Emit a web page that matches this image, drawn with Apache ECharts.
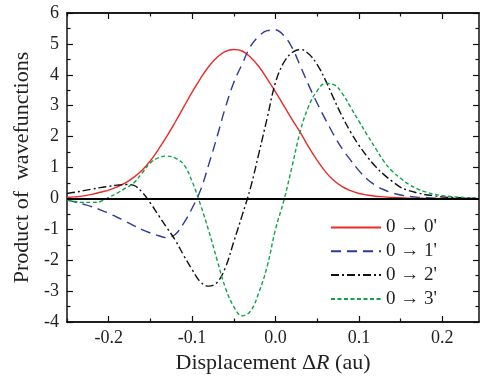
<!DOCTYPE html>
<html>
<head>
<meta charset="utf-8">
<script src="https://cdn.jsdelivr.net/npm/echarts@6/dist/echarts.min.js"></script>
<style>
  html, body { margin: 0; padding: 0; background: #fff; }
  #chart { width: 480px; height: 380px; }
</style>
</head>
<body>
<div id="chart"></div>
<script>
// displacement grid (au)
const xs = [
  -0.25, -0.24, -0.23, -0.22, -0.21, -0.20, -0.19, -0.18, -0.17, -0.16,
  -0.15, -0.14, -0.13, -0.12, -0.11, -0.10, -0.09, -0.08, -0.07, -0.06,
  -0.05, -0.04, -0.03, -0.02, -0.01, 0.00, 0.01, 0.02, 0.03, 0.04,
  0.05, 0.06, 0.07, 0.08, 0.09, 0.10, 0.11, 0.12, 0.13, 0.14,
  0.15, 0.16, 0.17, 0.18, 0.19, 0.20, 0.21, 0.22, 0.23, 0.24
];

// product of wavefunctions
const to0 = [
  0.03, 0.05, 0.08, 0.13, 0.2, 0.27, 0.37, 0.5, 0.68, 0.91,
  1.22, 1.6, 2.02, 2.48, 2.96, 3.44, 3.88, 4.27, 4.57, 4.76,
  4.82, 4.77, 4.57, 4.27, 3.87, 3.45, 3.0, 2.55, 2.12, 1.65,
  1.23, 0.86, 0.58, 0.38, 0.25, 0.16, 0.11, 0.07, 0.05, 0.03,
  0.02, 0.01, 0.01, 0, 0, 0, 0, 0, 0, 0
];
const to1 = [
  -0.05, -0.12, -0.19, -0.27, -0.37, -0.48, -0.61, -0.74, -0.88, -1.01,
  -1.12, -1.21, -1.27, -1.16, -0.8, -0.32, 0.26, 1.1, 2.0, 2.95,
  3.75, 4.35, 4.92, 5.25, 5.43, 5.45, 5.27, 4.87, 4.27, 3.65,
  3.08, 2.55, 2.05, 1.6, 1.24, 0.9, 0.62, 0.42, 0.28, 0.18,
  0.11, 0.07, 0.04, 0.02, 0.01, 0, 0, 0, 0, 0
];
const to2 = [
  0.16, 0.2, 0.25, 0.3, 0.35, 0.39, 0.43, 0.45, 0.42, 0.2,
  -0.15, -0.56, -0.96, -1.36, -1.85, -2.3, -2.7, -2.84, -2.72, -2.23,
  -1.4, -0.55, 0.34, 1.45, 2.6, 3.75, 4.4, 4.72, 4.82, 4.67,
  4.33, 3.82, 3.22, 2.65, 2.15, 1.72, 1.35, 1.03, 0.77, 0.55,
  0.36, 0.25, 0.18, 0.12, 0.09, 0.05, 0.03, 0.02, 0.01, 0
];
const to3 = [
  -0.05, -0.1, -0.13, -0.13, -0.1, 0.03, 0.17, 0.33, 0.5, 0.82,
  1.15, 1.32, 1.37, 1.3, 1.1, 0.55, -0.2, -1.05, -2.0, -2.9,
  -3.5, -3.8, -3.65, -3.05, -2.2, -1.0, -0.07, 1.05, 2.2, 3.0,
  3.48, 3.72, 3.68, 3.4, 2.95, 2.5, 2.05, 1.62, 1.2, 0.88,
  0.65, 0.45, 0.31, 0.21, 0.14, 0.09, 0.06, 0.04, 0.02, 0.01
];

const names = ["0 \u2192 0'", "0 \u2192 1'", "0 \u2192 2'", "0 \u2192 3'"];
const xMajor = [-0.2, -0.1, 0, 0.1, 0.2];
const xMinor = [-0.25, -0.15, -0.05, 0.05, 0.15];

const FONT = 'Liberation Serif';
const X_MIN = -0.25, X_MAX = 0.244;

const pairs = ys => xs.map((x, i) => [x, ys[i]]);

function xAxisDef(position, ticks, len, labels) {
  return {
    type: 'value', position: position, min: X_MIN, max: X_MAX,
    axisLine: { show: true, onZero: false, lineStyle: { color: '#111', width: 1.5 } },
    axisTick: { show: true, inside: true, length: len, customValues: ticks,
      lineStyle: { color: '#111', width: 1.2 } },
    axisLabel: labels ? {
      show: true, customValues: ticks, margin: 7,
      fontFamily: FONT, fontSize: 18, color: '#222',
      formatter: v => v.toFixed(1)
    } : { show: false },
    splitLine: { show: false }
  };
}

function yAxisDef(position, labels) {
  return {
    type: 'value', position: position, min: -4, max: 6, interval: 1,
    axisLine: { show: true, onZero: false, lineStyle: { color: '#111', width: 1.5 } },
    axisTick: { show: true, inside: true, length: 6, lineStyle: { color: '#111', width: 1.2 } },
    minorTick: { show: true, splitNumber: 2, length: 3.5, lineStyle: { color: '#111', width: 1.2 } },
    axisLabel: labels ? { show: true, margin: 8, fontFamily: FONT, fontSize: 18, color: '#222' } : { show: false },
    splitLine: { show: false }
  };
}

const bottomX = xAxisDef('bottom', xMajor, 6, true);
bottomX.name = 'Displacement \u0394{i|R} (au)';
bottomX.nameLocation = 'middle';
bottomX.nameGap = 29;
bottomX.nameTextStyle = {
  fontFamily: FONT, fontSize: 22, color: '#222',
  rich: { i: { fontFamily: FONT, fontSize: 22, fontStyle: 'italic', color: '#222' } }
};

const leftY = yAxisDef('left', true);
leftY.name = 'Product of  wavefunctions';
leftY.nameLocation = 'middle';
leftY.nameGap = 34;
leftY.nameTextStyle = { fontFamily: FONT, fontSize: 22, color: '#222' };

const chart = echarts.init(document.getElementById('chart'));

chart.setOption({
  animation: false,
  backgroundColor: '#fff',
  grid: { left: 67, right: 1, top: 13, bottom: 58, outerBoundsMode: 'none' },
  legend: {
    orient: 'vertical', left: 325, top: 213,
    itemWidth: 50, itemHeight: 14, itemGap: 4.8,
    itemStyle: { opacity: 0 },
    textStyle: { fontFamily: FONT, fontSize: 19, color: '#222' },
    data: names
  },
  xAxis: [
    bottomX,
    xAxisDef('bottom', xMinor, 3.5, false),
    xAxisDef('top', xMajor, 6, false),
    xAxisDef('top', xMinor, 3.5, false)
  ],
  yAxis: [leftY, yAxisDef('right', false)],
  series: [
    {
      name: names[0], type: 'line', data: pairs(to0),
      smooth: 0.4, symbol: 'none',
      lineStyle: { color: '#ea2a2a', width: 1.4, type: 'solid' },
      itemStyle: { color: '#ea2a2a' },
      markLine: {
        silent: true, symbol: 'none', label: { show: false },
        lineStyle: { color: '#000', width: 2, type: 'solid' },
        data: [{ yAxis: 0 }]
      }
    },
    {
      name: names[1], type: 'line', data: pairs(to1),
      smooth: 0.4, symbol: 'none',
      lineStyle: { color: '#2e3a95', width: 1.4, type: [10, 6] },
      itemStyle: { color: '#2e3a95' }
    },
    {
      name: names[2], type: 'line', data: pairs(to2),
      smooth: 0.4, symbol: 'none',
      lineStyle: { color: '#111', width: 1.4, type: [8, 3, 2, 3] },
      itemStyle: { color: '#111' }
    },
    {
      name: names[3], type: 'line', data: pairs(to3),
      smooth: 0.4, symbol: 'none',
      lineStyle: { color: '#0ea44a', width: 1.4, type: [4, 2.5] },
      itemStyle: { color: '#0ea44a' }
    }
  ]
});
</script>
</body>
</html>
